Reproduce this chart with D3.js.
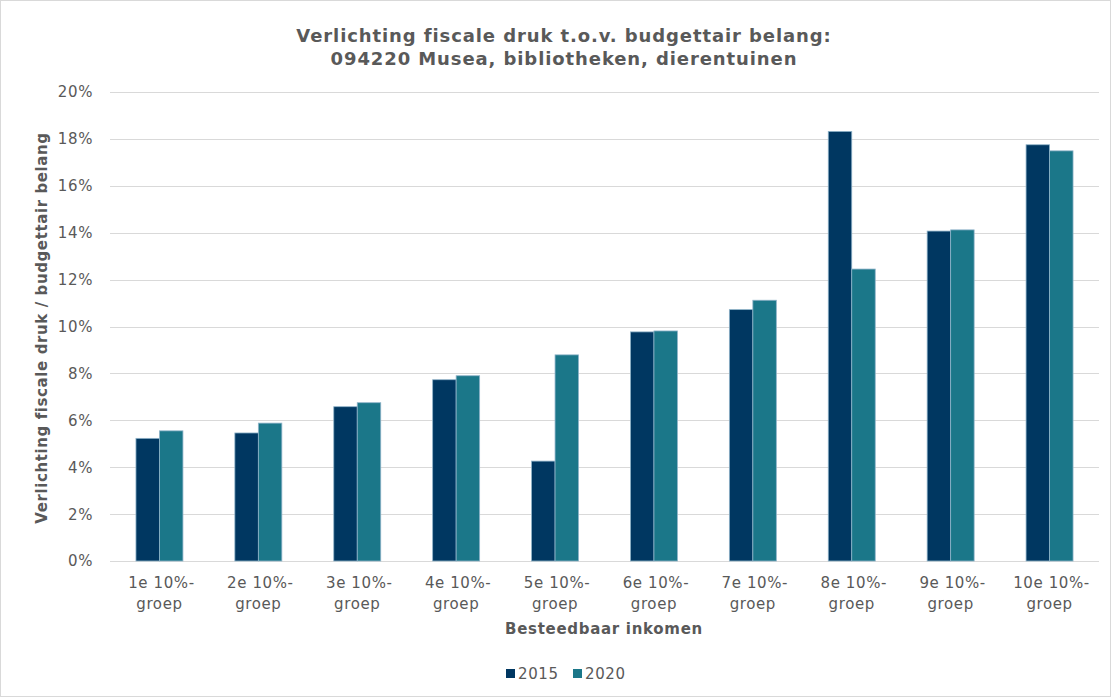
<!DOCTYPE html>
<html>
<head>
<meta charset="utf-8">
<script src="https://cdn.jsdelivr.net/npm/d3@7"></script>
<style>
  body { margin: 0; background: #fff; }
  text { font-family: "DejaVu Sans", Verdana, sans-serif; }
</style>
</head>
<body>
<div id="chart"></div>
<script>
// data
var groups = ["1e 10%-groep", "2e 10%-groep", "3e 10%-groep", "4e 10%-groep", "5e 10%-groep",
              "6e 10%-groep", "7e 10%-groep", "8e 10%-groep", "9e 10%-groep", "10e 10%-groep"];
var series = ["2015", "2020"];
var values2015 = [5.23, 5.46, 6.58, 7.73, 4.26, 9.77, 10.72, 18.32, 14.07, 17.75];
var values2020 = [5.55, 5.88, 6.75, 7.9, 8.79, 9.81, 11.12, 12.45, 14.12, 17.49];
var yTicks = [0, 2, 4, 6, 8, 10, 12, 14, 16, 18, 20];
var colors = ["#003761", "#1b7789"];

var W = 1111, H = 697;
var margin = { top: 92, right: 12, bottom: 136, left: 110 };
var labelSize = "15px", labelSpacing = "0.6px";

var svg = d3.select("#chart").append("svg")
    .attr("width", W)
    .attr("height", H);

svg.append("rect")
    .attr("x", 0.5).attr("y", 0.5)
    .attr("width", W - 1).attr("height", H - 1)
    .attr("fill", "#fff")
    .attr("stroke", "#d9d9d9");

var data = groups.map(function (g, i) {
    return { group: g, vals: [values2015[i], values2020[i]] };
});

var x0 = d3.scaleBand()
    .domain(groups)
    .range([margin.left, W - margin.right]);

var groupW = x0.bandwidth() * 0.475;
var x1 = d3.scaleBand()
    .domain(series)
    .range([(x0.bandwidth() - groupW) / 2, (x0.bandwidth() + groupW) / 2]);

var y = d3.scaleLinear()
    .domain([0, 20])
    .range([H - margin.bottom, margin.top]);

// gridlines
svg.append("g")
    .selectAll("line")
    .data(yTicks)
    .enter()
    .append("line")
    .attr("x1", margin.left)
    .attr("x2", W - margin.right)
    .attr("y1", function (d) { return Math.round(y(d)) + 0.5; })
    .attr("y2", function (d) { return Math.round(y(d)) + 0.5; })
    .attr("stroke", "#d9d9d9")
    .attr("stroke-width", 1);

// y tick labels
svg.append("g")
    .selectAll("text")
    .data(yTicks)
    .enter()
    .append("text")
    .attr("x", 93)
    .attr("y", function (d) { return y(d); })
    .attr("dy", "0.36em")
    .attr("text-anchor", "end")
    .attr("fill", "#595959")
    .style("font-size", labelSize)
    .style("letter-spacing", labelSpacing)
    .text(function (d) { return d + "%"; });

// bars
svg.append("g")
    .selectAll("g")
    .data(data)
    .enter()
    .append("g")
    .attr("transform", function (d) { return "translate(" + x0(d.group) + ",0)"; })
    .selectAll("rect")
    .data(function (d) { return d.vals.map(function (v, i) { return { key: series[i], value: v, i: i }; }); })
    .enter()
    .append("rect")
    .attr("x", function (d) { return x1(d.key); })
    .attr("y", function (d) { return y(d.value); })
    .attr("width", x1.bandwidth())
    .attr("height", function (d) { return y(0) - y(d.value); })
    .attr("fill", function (d) { return colors[d.i]; })
    .attr("stroke", "#8fb3c9")
    .attr("stroke-width", 0.8);

// x tick labels (two lines)
var xl = svg.append("g")
    .selectAll("text")
    .data(groups)
    .enter()
    .append("text")
    .attr("text-anchor", "middle")
    .attr("fill", "#595959")
    .style("font-size", labelSize)
    .style("letter-spacing", labelSpacing);
xl.append("tspan")
    .attr("x", function (d) { return x0(d) + x0.bandwidth() / 2 + 2; })
    .attr("y", 588)
    .text(function (d) { return d.replace("groep", ""); });
xl.append("tspan")
    .attr("x", function (d) { return x0(d) + x0.bandwidth() / 2; })
    .attr("y", 609)
    .text("groep");

// axis titles
svg.append("text")
    .attr("x", 604)
    .attr("y", 634)
    .attr("text-anchor", "middle")
    .attr("fill", "#595959")
    .style("font-size", labelSize)
    .style("letter-spacing", "0.7px")
    .style("font-weight", "bold")
    .text("Besteedbaar inkomen");

svg.append("text")
    .attr("transform", "translate(47,328) rotate(-90)")
    .attr("text-anchor", "middle")
    .attr("fill", "#595959")
    .style("font-size", labelSize)
    .style("letter-spacing", "0.6px")
    .style("font-weight", "bold")
    .text("Verlichting fiscale druk / budgettair belang");

// title
var titleLines = ["Verlichting fiscale druk t.o.v. budgettair belang:",
                  "094220 Musea, bibliotheken, dierentuinen"];
svg.append("g")
    .selectAll("text")
    .data(titleLines)
    .enter()
    .append("text")
    .attr("x", 564)
    .attr("y", function (d, i) { return 42 + i * 23; })
    .attr("text-anchor", "middle")
    .attr("fill", "#595959")
    .style("font-size", "18px")
    .style("letter-spacing", "0.9px")
    .style("font-weight", "bold")
    .text(function (d) { return d; });

// legend
var legendX = [506, 573];
var lg = svg.append("g")
    .selectAll("g")
    .data(series)
    .enter()
    .append("g")
    .attr("transform", function (d, i) { return "translate(" + legendX[i] + ",669)"; });
lg.append("rect")
    .attr("width", 9).attr("height", 9)
    .attr("fill", function (d, i) { return colors[i]; });
lg.append("text")
    .attr("x", 12)
    .attr("y", 9.5)
    .attr("fill", "#595959")
    .style("font-size", labelSize)
    .style("letter-spacing", labelSpacing)
    .text(function (d) { return d; });
</script>
</body>
</html>
